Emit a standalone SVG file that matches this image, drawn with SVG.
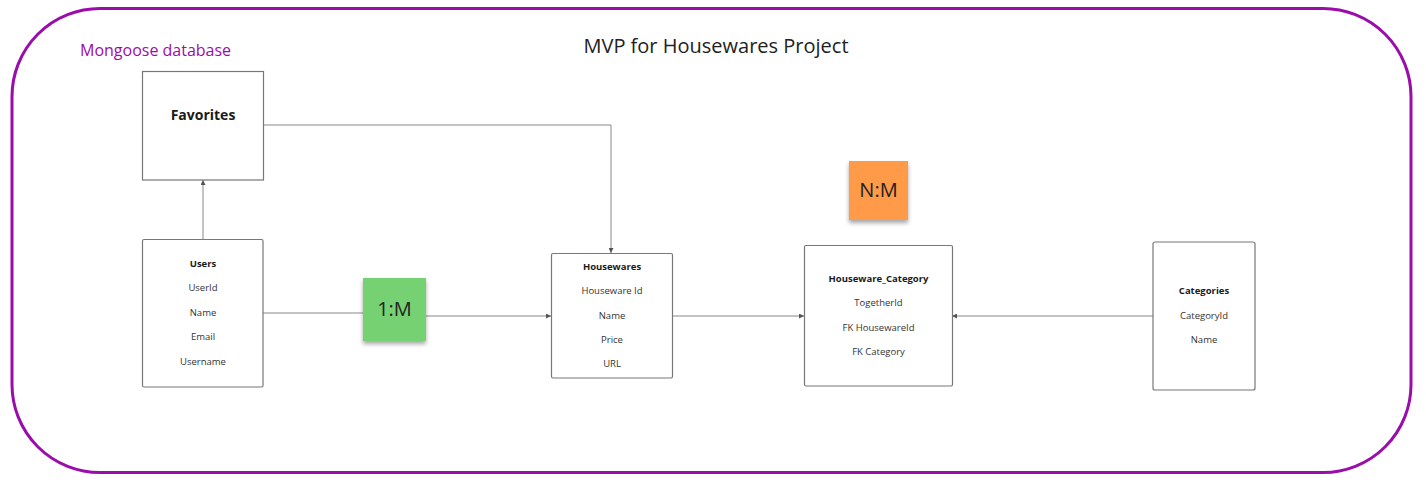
<svg xmlns="http://www.w3.org/2000/svg" width="1426" height="487" viewBox="0 0 1426 487">
<style>
.box{fill:#fff;stroke:#777;stroke-width:1.2}
.t{font-family:"Open Sans","Liberation Sans",sans-serif;fill:#333;font-size:9.5px;text-anchor:middle}
.b{font-weight:bold;fill:#1a1a1a}
.c{fill:none;stroke:#888;stroke-width:1}
.st{font-family:"Open Sans","Liberation Sans",sans-serif;font-size:20px;text-anchor:middle;fill:#222}
</style>
<defs>
<marker id="ah" viewBox="0 0 6 6" refX="6" refY="3" markerWidth="5" markerHeight="5" orient="auto" markerUnits="userSpaceOnUse">
<path d="M0,0 L6,3 L0,6 z" fill="#555"/>
</marker>
<filter id="sh" x="-20%" y="-20%" width="140%" height="150%">
<feDropShadow dx="0" dy="3" stdDeviation="2" flood-color="#000" flood-opacity="0.35"/>
</filter>
</defs>
<rect x="0" y="0" width="1426" height="487" fill="#fff"/>
<g id="frame">
<rect x="12" y="8.5" width="1399" height="464" rx="88" ry="88" fill="none" stroke="#9A0DAA" stroke-width="3"/>
<text x="80" y="56" font-family="Open Sans, Liberation Sans, sans-serif" font-size="16" fill="#9A0DAA">Mongoose database</text>
<text x="716" y="53" font-family="Open Sans, Liberation Sans, sans-serif" font-size="20" fill="#222" text-anchor="middle">MVP for Housewares Project</text>
</g>
<g id="connectors">
<path class="c" d="M203,239 L203,180" marker-end="url(#ah)"/>
<path class="c" d="M263,125 L611,125 L611,253" marker-end="url(#ah)"/>
<path class="c" d="M263,313 L363,313"/>
<path class="c" d="M426,316 L551,316" marker-end="url(#ah)"/>
<path class="c" d="M672,316 L804,316" marker-end="url(#ah)"/>
<path class="c" d="M1153,316 L952,316" marker-end="url(#ah)"/>
</g>
<g id="favorites">
<rect class="box" x="142.5" y="71.5" width="121" height="108.5"/>
<text class="t b" x="203" y="120" style="font-size:14px">Favorites</text>
</g>
<g id="users">
<rect class="box" x="142.5" y="239.5" width="120.5" height="147.5" rx="1.5"/>
<text class="t b" x="203" y="267">Users</text>
<text class="t" x="203" y="291">UserId</text>
<text class="t" x="203" y="315.5">Name</text>
<text class="t" x="203" y="340">Email</text>
<text class="t" x="203" y="364.5">Username</text>
</g>
<g id="housewares">
<rect class="box" x="551.5" y="253.5" width="121" height="124.5" rx="1.5"/>
<text class="t b" x="612" y="269.5">Housewares</text>
<text class="t" x="612" y="294">Houseware Id</text>
<text class="t" x="612" y="318.5">Name</text>
<text class="t" x="612" y="342.5">Price</text>
<text class="t" x="612" y="367">URL</text>
</g>
<g id="houseware_category">
<rect class="box" x="804.5" y="245.5" width="148" height="140.5" rx="1.5"/>
<text class="t b" x="878.5" y="282">Houseware_Category</text>
<text class="t" x="878.5" y="306">TogetherId</text>
<text class="t" x="878.5" y="330.5">FK HousewareId</text>
<text class="t" x="878.5" y="355">FK Category</text>
</g>
<g id="categories">
<rect class="box" x="1153" y="242" width="102" height="148" rx="2"/>
<text class="t b" x="1204" y="294">Categories</text>
<text class="t" x="1204" y="318.5">CategoryId</text>
<text class="t" x="1204" y="342.5">Name</text>
</g>
<g id="sticky_1M">
<rect x="363" y="278" width="63" height="63" fill="#74D172" filter="url(#sh)"/>
<text class="st" x="394.5" y="316">1:M</text>
</g>
<g id="sticky_NM">
<rect x="849" y="161" width="59" height="59" fill="#FF9A4A" filter="url(#sh)"/>
<text class="st" x="878.5" y="197">N:M</text>
</g>
</svg>
